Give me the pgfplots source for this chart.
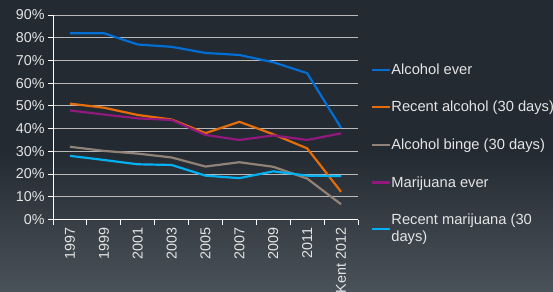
\documentclass[border=0pt]{standalone}
\usepackage{pgfplots}
\pgfplotsset{compat=1.18}
\usepackage{fontspec}
\setmainfont{Liberation Sans}
\definecolor{bgtop}{RGB}{36,42,50}
\definecolor{bgbot}{RGB}{74,82,89}
\definecolor{txt}{RGB}{228,228,228}
\definecolor{gridc}{RGB}{185,185,185}
\definecolor{cblue}{RGB}{0,110,210}
\definecolor{corange}{RGB}{228,108,10}
\definecolor{cbinge}{RGB}{145,130,120}
\definecolor{cpurple}{RGB}{145,25,125}
\definecolor{ccyan}{RGB}{0,176,240}
\begin{document}
\begin{tikzpicture}
\useasboundingbox (0bp,0bp) rectangle (553bp,292bp);
\fill[bgtop] (0bp,0bp) rectangle (553bp,292bp);
\shade[top color=bgtop, bottom color=bgbot] (0bp,0bp) rectangle (553bp,140bp);
\begin{axis}[
  at={(53bp,72.5bp)}, anchor=south west,
  scale only axis, width=305bp, height=204.5bp,
  xmin=-0.5, xmax=8.5, ymin=0, ymax=90,
  axis x line*=bottom, axis y line*=left,
  axis line style={white, line width=0.8bp},
  tick align=outside, major tick length=5bp,
  tick style={white, line width=0.8bp},
  ytick={0,10,...,90},
  yticklabel={\pgfmathprintnumber{\tick}\%},
  /pgf/number format/assume math mode=true,
  ymajorgrids, grid style={gridc, line width=0.8bp},
  xtick={-0.5,0.5,...,8.5},
  xticklabels={1997,1999,2001,2003,2005,2007,2009,2011,Kent 2012},
  x tick label as interval,
  xticklabel style={rotate=90, anchor=east},
  ticklabel style={font=\fontsize{14.3bp}{17bp}\selectfont, text=txt},
  legend cell align=left,
  legend style={at={(axis description cs:1.041,0.766)}, anchor=north west,
    draw=none, fill=none, inner sep=0pt, row sep=24.5bp,
    font=\fontsize{14.7bp}{17bp}\selectfont, text=txt,
    nodes={inner sep=0.5bp, align=left}},
  legend image code/.code={\draw[#1] (0bp,0bp) -- (18bp,0bp);},
  every axis plot/.append style={line width=2.2bp, mark=none},
]
\addplot[cblue] coordinates {(0,82) (1,82) (2,77) (3,76) (4,73.3) (5,72.4) (6,69.2) (7,64.4) (8,40.3)};
\addlegendentry{Alcohol ever}
\addplot[corange] coordinates {(0,51) (1,49.2) (2,46) (3,44) (4,38) (5,43) (6,37.5) (7,31.3) (8,12.2)};
\addlegendentry{Recent alcohol (30 days)}
\addplot[cbinge] coordinates {(0,32) (1,30.2) (2,29) (3,27.3) (4,23.3) (5,25.2) (6,23.2) (7,18) (8,6.7)};
\addlegendentry{Alcohol binge (30 days)}
\addplot[cpurple] coordinates {(0,48) (1,46.2) (2,44.5) (3,43.8) (4,37.2) (5,35) (6,37) (7,35) (8,37.9)};
\addlegendentry{Marijuana ever}
\addplot[ccyan] coordinates {(0,28) (1,26.2) (2,24.3) (3,24) (4,19.3) (5,18.2) (6,21.2) (7,19.3) (8,19.1)};
\addlegendentry{Recent marijuana (30\\days)}
\end{axis}
\end{tikzpicture}
\end{document}
